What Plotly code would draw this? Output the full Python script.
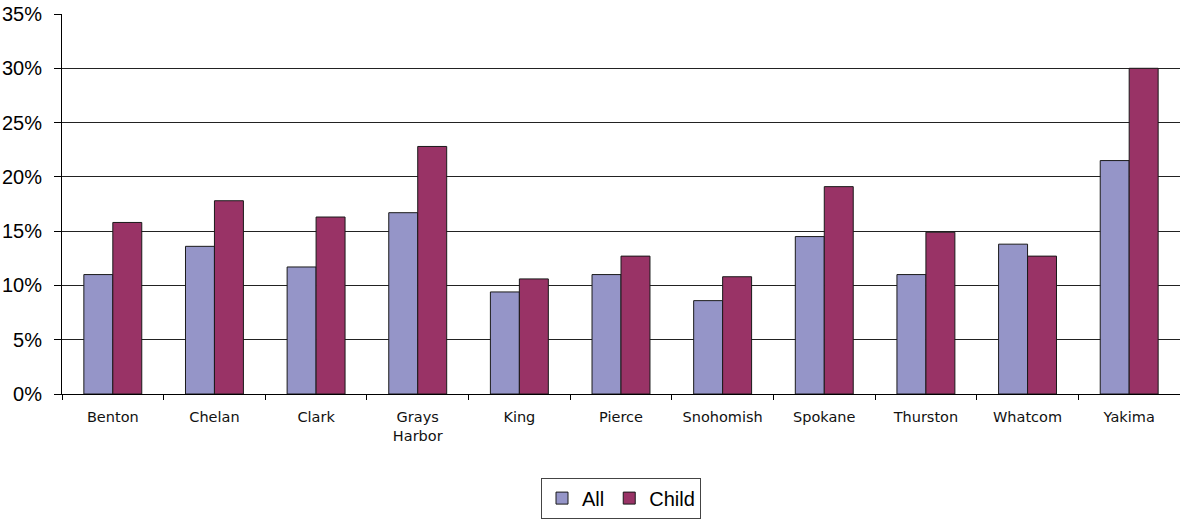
import plotly.graph_objects as go

counties = ["Benton", "Chelan", "Clark", "Grays<br>Harbor", "King", "Pierce",
            "Snohomish", "Spokane", "Thurston", "Whatcom", "Yakima"]
all_pct = [11.0, 13.6, 11.7, 16.7, 9.4, 11.0, 8.6, 14.5, 11.0, 13.8, 21.5]
child_pct = [15.8, 17.8, 16.3, 22.8, 10.6, 12.7, 10.8, 19.1, 14.9, 12.7, 30.0]

y_ticks = [0, 5, 10, 15, 20, 25, 30, 35]
y_tick_labels = [f"{v}%" for v in y_ticks]

fig = go.Figure()
fig.add_trace(go.Bar(
    name="All", x=counties, y=all_pct,
    marker=dict(color="#9595c8", line=dict(color="#1a1a1a", width=1)),
))
fig.add_trace(go.Bar(
    name="Child", x=counties, y=child_pct,
    marker=dict(color="#993366", line=dict(color="#1a1a1a", width=1)),
))

fig.update_layout(
    width=1180, height=519,
    margin=dict(l=62, r=0, t=14, b=122),
    paper_bgcolor="white", plot_bgcolor="white",
    barmode="group", bargap=0.43, bargroupgap=0,
    showlegend=True,
    legend=dict(
        orientation="h", x=0.5, xanchor="center", y=-0.22, yanchor="top",
        bordercolor="#444", borderwidth=1,
        font=dict(family="Liberation Sans, Arial, sans-serif", size=20, color="black"),
        itemwidth=30, tracegroupgap=0,
    ),
    xaxis=dict(
        showline=True, linecolor="black", linewidth=1,
        ticks="outside", tickson="boundaries", ticklen=5, tickcolor="black",
        ticklabelstandoff=10,
        tickfont=dict(family="DejaVu Sans, sans-serif", size=14.5, color="#111"),
        showgrid=False,
    ),
    yaxis=dict(
        range=[0, 35], tickvals=y_ticks, ticktext=y_tick_labels,
        showline=True, linecolor="black", linewidth=1,
        ticks="outside", ticklen=7, tickcolor="black",
        ticklabelstandoff=8,
        showgrid=True, gridcolor="#222", gridwidth=1,
        tickfont=dict(family="Liberation Sans, Arial, sans-serif", size=20, color="black"),
        zeroline=False,
    ),
)

fig.write_html("out.html")
